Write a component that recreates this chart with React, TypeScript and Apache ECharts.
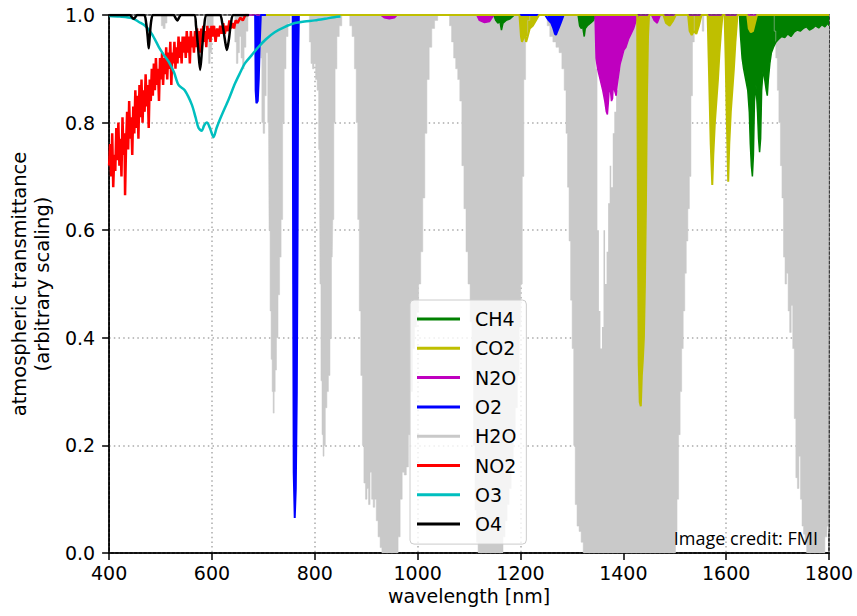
import React, { useEffect, useRef } from "react";
import * as echarts from "echarts";

// ---- axis ranges / ticks ----
const xMin = 400;
const xMax = 1800;
const xStep = 200;
const yMin = 0;
const yMax = 1;
const yStep = 0.2;

const legendNames = ["CH4", "CO2", "N2O", "O2", "H2O", "NO2", "O3", "O4"];

// ---- H2O: [wavelength nm, lower envelope, upper envelope] ----
const h2o: [number, number, number][] = [
  [400, 1, 1], [500, 1, 1], [503, 0.98, 1], [507, 0.975, 1], [511, 0.985, 1], [514, 1, 1],
  [588, 1, 1], [592, 0.95, 1], [595, 0.91, 1], [598, 0.93, 1], [601, 0.96, 1], [604, 1, 1],
  [643, 1, 1], [646, 0.95, 1], [649, 0.91, 1], [652, 0.93, 1], [655, 0.96, 1], [658, 0.92, 1],
  [661, 0.9, 1], [664, 0.94, 1], [668, 0.97, 1], [672, 1, 1],
  [694, 1, 1], [696, 0.92, 1], [698, 0.8, 1], [701, 0.78, 1], [704, 0.85, 1], [707, 0.93, 1],
  [710, 0.8, 1], [712, 0.6, 1], [714, 0.45, 1], [716, 0.36, 1], [718, 0.3, 1], [720, 0.26, 1],
  [722, 0.3, 1], [724, 0.34, 1], [727, 0.4, 1], [730, 0.48, 1], [733, 0.55, 1], [736, 0.62, 1],
  [739, 0.8, 1], [742, 0.9, 1], [746, 0.96, 1], [750, 0.985, 1], [754, 1, 1],
  [788, 1, 1], [791, 0.95, 1], [794, 0.91, 1], [797, 0.9, 1], [800, 0.91, 1], [803, 0.88, 1],
  [806, 0.86, 1], [809, 0.75, 1], [811, 0.5, 1], [813, 0.32, 1], [815, 0.22, 1], [817, 0.18, 1],
  [819, 0.2, 1], [822, 0.27, 1], [825, 0.3, 1], [828, 0.33, 1], [831, 0.4, 1], [834, 0.55, 1],
  [836, 0.62, 1], [838, 0.8, 1], [841, 0.9, 1], [845, 0.96, 1], [850, 0.98, 1], [855, 1, 1],
  [866, 1, 1], [870, 0.98, 1], [875, 0.96, 1], [879, 0.9, 1], [882, 0.8, 1], [885, 0.62, 1],
  [888, 0.45, 1], [891, 0.33, 1], [894, 0.2, 1], [897, 0.13, 1], [900, 0.1, 1], [903, 0.12, 1],
  [906, 0.09, 1], [909, 0.15, 1], [912, 0.1, 1], [915, 0.085, 1], [918, 0.1, 1], [921, 0.06, 1],
  [925, 0.03, 1], [929, 0.01, 1], [932, 0, 1], [960, 0, 1], [964, 0.03, 1], [968, 0.1, 1],
  [972, 0.15, 1], [976, 0.145, 1], [980, 0.16, 1], [984, 0.22, 1], [988, 0.3, 1], [992, 0.38, 1],
  [996, 0.42, 1], [1000, 0.45, 1], [1004, 0.5, 1], [1008, 0.56, 1], [1012, 0.66, 1], [1016, 0.78, 1],
  [1020, 0.88, 1], [1025, 0.94, 1], [1030, 0.975, 1], [1036, 0.99, 1], [1042, 1, 1],
  [1060, 1, 1], [1064, 0.98, 1], [1068, 0.95, 1], [1072, 0.92, 1], [1076, 0.9, 1], [1080, 0.88, 1],
  [1084, 0.84, 1], [1088, 0.72, 1], [1092, 0.64, 1], [1096, 0.56, 1], [1100, 0.5, 1], [1104, 0.43, 1],
  [1107, 0.34, 1], [1110, 0.2, 1], [1113, 0.08, 1], [1116, 0.02, 1], [1119, 0, 1], [1164, 0, 1],
  [1168, 0.03, 1], [1172, 0.06, 1], [1176, 0.09, 1], [1180, 0.12, 1], [1184, 0.17, 1], [1188, 0.22, 1],
  [1192, 0.27, 1], [1196, 0.33, 1], [1199, 0.42, 1], [1202, 0.5, 1], [1205, 0.7, 1], [1208, 0.88, 1],
  [1212, 0.96, 1], [1216, 0.99, 1], [1220, 1, 1],
  [1250, 1, 1], [1254, 0.98, 1], [1260, 0.96, 1], [1266, 0.95, 1], [1272, 0.94, 1], [1278, 0.93, 1],
  [1283, 0.9, 1], [1287, 0.86, 1], [1290, 0.78, 1], [1293, 0.68, 1], [1296, 0.58, 1], [1299, 0.47, 1],
  [1302, 0.38, 1], [1305, 0.2, 1], [1308, 0.09, 1], [1312, 0.05, 1], [1316, 0.04, 1], [1320, 0.02, 1],
  [1324, 0, 1], [1345, 0, 1], [1348, 0, 0.9], [1351, 0, 0.6], [1354, 0, 0.45], [1357, 0, 0.38],
  [1360, 0, 0.42], [1363, 0, 0.6], [1366, 0, 0.5], [1369, 0, 0.56], [1372, 0, 0.65], [1375, 0, 0.72],
  [1378, 0, 0.68], [1381, 0, 0.78], [1384, 0, 0.82], [1388, 0, 0.86], [1392, 0, 0.9], [1396, 0, 0.93],
  [1400, 0, 0.95], [1406, 0, 0.97], [1412, 0, 0.98], [1418, 0, 1], [1500, 0, 1], [1503, 0.04, 1],
  [1506, 0.1, 1], [1509, 0.22, 1], [1512, 0.3, 1], [1515, 0.38, 1], [1518, 0.45, 1], [1521, 0.52, 1],
  [1524, 0.58, 1], [1527, 0.64, 1], [1530, 0.7, 1], [1533, 0.85, 1], [1536, 0.95, 1], [1540, 1, 1],
  [1552, 1, 1], [1555, 0.97, 1], [1558, 1, 1],
  [1692, 1, 1], [1695, 0.97, 1], [1698, 0.92, 1], [1701, 0.86, 1], [1704, 0.8, 1], [1707, 0.72, 1],
  [1710, 0.66, 1], [1713, 0.55, 1], [1716, 0.5, 1], [1719, 0.52, 1], [1722, 0.45, 1], [1725, 0.41, 1],
  [1728, 0.46, 1], [1731, 0.38, 1], [1734, 0.25, 1], [1737, 0.14, 1], [1740, 0.12, 1], [1743, 0.18, 1],
  [1746, 0.1, 1], [1749, 0.05, 1], [1752, 0.035, 1], [1755, 0.02, 1], [1758, 0, 1], [1790, 0, 1],
  [1794, 0.03, 1], [1798, 0.05, 1], [1800, 0.04, 1],
];

// ---- other gases: [wavelength nm, transmittance] ----
const ch4: [number, number][] = [
  [1148, 1], [1152, 0.99], [1156, 0.985], [1160, 0.988], [1163, 0.972], [1166, 0.985], [1172, 0.99],
  [1180, 0.993], [1188, 1],
  [1312, 1], [1315, 0.98], [1318, 0.975], [1321, 0.978], [1324, 0.96], [1326, 0.975], [1330, 0.98],
  [1336, 0.985], [1342, 0.99], [1346, 1],
  [1626, 1], [1628, 0.96], [1631, 0.92], [1634, 0.9], [1638, 0.88], [1642, 0.86], [1645, 0.82],
  [1647, 0.76], [1649, 0.72], [1651, 0.7], [1653, 0.74], [1655, 0.84], [1658, 0.87], [1661, 0.82],
  [1663, 0.77], [1665, 0.745], [1667, 0.77], [1669, 0.86], [1672, 0.9], [1675, 0.88], [1678, 0.86],
  [1680, 0.85], [1682, 0.88], [1685, 0.91], [1688, 0.93], [1692, 0.94], [1697, 0.95], [1702, 0.955],
  [1708, 0.96], [1714, 0.958], [1720, 0.965], [1726, 0.96], [1732, 0.968], [1738, 0.972], [1744, 0.97],
  [1750, 0.975], [1756, 0.978], [1762, 0.972], [1768, 0.975], [1774, 0.98], [1780, 0.976], [1786, 0.982],
  [1792, 0.978], [1798, 0.985], [1800, 0.98],
];

const co2: [number, number][] = [
  [705, 1], [1198, 1], [1201, 0.96], [1203, 0.95], [1205, 0.955], [1208, 0.965], [1211, 0.95],
  [1214, 0.96], [1218, 0.975], [1224, 0.98], [1230, 0.99], [1236, 1],
  [1427, 1], [1428.5, 0.6], [1430, 0.35], [1432, 0.28], [1434, 0.273], [1436, 0.33], [1438, 0.36],
  [1440, 0.4], [1442, 0.5], [1444, 0.65], [1446, 0.85], [1448, 0.96], [1450, 1],
  [1478, 1], [1483, 0.985], [1490, 0.98], [1497, 0.99], [1502, 1],
  [1526, 1], [1529, 0.97], [1533, 0.963], [1537, 0.97], [1542, 0.965], [1547, 0.98], [1552, 1],
  [1564, 1], [1566, 0.92], [1568, 0.84], [1570, 0.76], [1573, 0.684], [1575, 0.74], [1578, 0.8],
  [1581, 0.84], [1584, 0.88], [1587, 0.93], [1590, 0.97], [1593, 1],
  [1597, 1], [1599, 0.92], [1601, 0.82], [1604, 0.69], [1606, 0.76], [1609, 0.82], [1612, 0.86],
  [1615, 0.9], [1618, 0.95], [1622, 1],
  [1641, 1], [1644, 0.975], [1648, 0.968], [1652, 0.97], [1656, 0.985], [1660, 1], [1800, 1],
];

const n2o: [number, number][] = [
  [668, 1], [928, 1], [935, 0.995], [945, 0.993], [955, 0.995], [960, 1],
  [1115, 1], [1120, 0.99], [1130, 0.986], [1140, 0.988], [1148, 1],
  [1345, 1], [1347, 0.92], [1350, 0.9], [1355, 0.88], [1360, 0.86], [1364, 0.84], [1367, 0.82],
  [1369, 0.815], [1371, 0.84], [1373, 0.87], [1375, 0.86], [1377, 0.84], [1379, 0.845], [1381, 0.88],
  [1383, 0.86], [1386, 0.85], [1388, 0.87], [1391, 0.89], [1394, 0.91], [1397, 0.92], [1401, 0.935],
  [1405, 0.94], [1410, 0.955], [1415, 0.965], [1420, 0.975], [1425, 0.99], [1429, 1],
  [1455, 1], [1460, 0.99], [1466, 0.985], [1472, 1], [1800, 1],
];

const o2: [number, number][] = [
  [684, 1], [685, 0.86], [686.5, 0.836], [689, 0.84], [691, 0.88], [693, 0.95], [695, 1],
  [757, 1], [758, 0.5], [759, 0.15], [761, 0.065], [763, 0.12], [765, 0.3], [766.5, 0.6], [767.5, 0.9], [769, 1],
  [1248, 1], [1255, 0.99], [1260, 0.985], [1264, 0.975], [1267, 0.965], [1269, 0.963], [1271, 0.968],
  [1274, 0.975], [1278, 0.985], [1284, 1],
];

const no2: [number, number][] = [
  [400, 0.72], [402, 0.76], [404, 0.7], [406, 0.78], [408, 0.68], [410, 0.74], [412, 0.71], [414, 0.79],
  [416, 0.73], [418, 0.8], [420, 0.72], [422, 0.77], [424, 0.7], [426, 0.81], [428, 0.74], [430, 0.78],
  [431, 0.665], [433, 0.76], [435, 0.82], [437, 0.75], [439, 0.84], [441, 0.77], [443, 0.81], [445, 0.74],
  [447, 0.83], [449, 0.78], [451, 0.86], [453, 0.79], [455, 0.85], [457, 0.77], [459, 0.87], [461, 0.81],
  [463, 0.88], [465, 0.8], [467, 0.86], [469, 0.82], [471, 0.89], [473, 0.83], [475, 0.87], [477, 0.79],
  [479, 0.88], [481, 0.84], [483, 0.9], [485, 0.85], [487, 0.91], [489, 0.86], [491, 0.92], [493, 0.87],
  [495, 0.9], [497, 0.84], [499, 0.92], [501, 0.88], [503, 0.93], [505, 0.87], [507, 0.92], [509, 0.89],
  [511, 0.94], [513, 0.88], [515, 0.93], [517, 0.9], [519, 0.95], [521, 0.87], [523, 0.93], [525, 0.91],
  [527, 0.95], [529, 0.9], [531, 0.94], [533, 0.91], [535, 0.96], [537, 0.92], [539, 0.95], [541, 0.91],
  [543, 0.96], [545, 0.93], [547, 0.96], [549, 0.92], [551, 0.97], [553, 0.93], [555, 0.96], [557, 0.91],
  [559, 0.97], [561, 0.94], [563, 0.96], [565, 0.93], [567, 0.97], [569, 0.94], [571, 0.975], [573, 0.95],
  [575, 0.97], [577, 0.93], [579, 0.975], [581, 0.95], [583, 0.98], [585, 0.95], [587, 0.97], [589, 0.94],
  [591, 0.98], [593, 0.955], [595, 0.975], [597, 0.95], [599, 0.98], [601, 0.96], [604, 0.98], [607, 0.95],
  [610, 0.975], [613, 0.96], [616, 0.98], [619, 0.965], [622, 0.985], [625, 0.965], [628, 0.98], [631, 0.97],
  [634, 0.99], [637, 0.975], [640, 0.985], [643, 0.975], [646, 0.99], [650, 0.985], [655, 0.995], [660, 0.99],
  [665, 1], [670, 1],
];

const o3: [number, number][] = [
  [400, 0.998], [420, 0.997], [445, 0.994], [458, 0.987], [470, 0.98], [483, 0.965], [497, 0.94],
  [507, 0.925], [516, 0.913], [526, 0.894], [535, 0.87], [547, 0.86], [561, 0.833], [568, 0.81],
  [574, 0.79], [580, 0.785], [585, 0.795], [590, 0.8], [596, 0.79], [603, 0.773], [609, 0.79],
  [615, 0.805], [624, 0.825], [632, 0.842], [645, 0.873], [655, 0.893], [664, 0.91], [677, 0.925],
  [690, 0.94], [705, 0.955], [722, 0.968], [740, 0.977], [761, 0.985], [780, 0.988], [800, 0.99],
  [820, 0.993], [838, 0.996], [850, 0.997],
];

const o4: [number, number][] = [
  [400, 1], [440, 1], [445, 0.995], [448, 0.993], [451, 0.996], [455, 1], [468, 1], [472, 0.985],
  [475, 0.96], [477, 0.938], [479, 0.96], [482, 0.99], [486, 1], [525, 1], [530, 0.993], [533, 0.99],
  [536, 0.995], [540, 1], [565, 1], [569, 0.98], [573, 0.94], [577, 0.898], [581, 0.94], [585, 0.98],
  [590, 1], [615, 1], [620, 0.985], [625, 0.955], [629, 0.935], [633, 0.955], [637, 0.985], [642, 1],
  [672, 1],
];

const colors: Record<string, string> = {
  CH4: "#008000",
  CO2: "#bfbf00",
  N2O: "#bf00bf",
  O2: "#0000ff",
  H2O: "#c9c9c9",
  NO2: "#ff0000",
  O3: "#00bfbf",
  O4: "#000000",
};

const FONT = "DejaVu Sans";

export default function App() {
  const ref = useRef<HTMLDivElement>(null);

  useEffect(() => {
    if (!ref.current) return;
    const chart = echarts.init(ref.current, null, { renderer: "svg" });

    const filled = (name: string, data: [number, number][], width: number, color: string, step?: string) => ({
      name,
      type: "line",
      data,
      symbol: "none",
      step: step || false,
      color,
      lineStyle: { color, width },
      areaStyle: { color, opacity: 1, origin: "end" },
      silent: true,
      emphasis: { disabled: true },
    });
    const plain = (name: string, data: [number, number][], width: number, smooth: number | boolean) => ({
      name,
      type: "line",
      data,
      symbol: "none",
      smooth,
      color: colors[name],
      lineStyle: { color: colors[name], width },
      silent: true,
      emphasis: { disabled: true },
    });

    const option: any = {
      animation: false,
      grid: {
        left: 107,
        right: 28,
        top: 15,
        bottom: 63,
        show: true,
        borderColor: "#000",
        borderWidth: 1.5,
        backgroundColor: "#fff",
      },
      xAxis: {
        type: "value",
        min: xMin,
        max: xMax,
        interval: xStep,
        name: "wavelength [nm]",
        nameLocation: "middle",
        nameGap: 33,
        nameTextStyle: { fontFamily: FONT, fontSize: 19, color: "#000" },
        axisLine: { show: true, lineStyle: { color: "#000", width: 1.5 } },
        axisTick: { show: true, inside: false, length: 7, lineStyle: { color: "#000", width: 1.5 } },
        axisLabel: {
          margin: 10,
          fontFamily: FONT,
          fontSize: 19,
          color: "#000",
          formatter: (v: number) => String(v),
        },
        splitLine: { show: true, lineStyle: { color: "#aaaaaa", width: 1.5, type: [1.5, 3.2] } },
      },
      yAxis: {
        type: "value",
        min: yMin,
        max: yMax,
        interval: yStep,
        name: "atmospheric transmittance\n(arbitrary scaling)",
        nameLocation: "middle",
        nameRotate: 90,
        nameGap: 53,
        nameTextStyle: { fontFamily: FONT, fontSize: 19.5, color: "#000", lineHeight: 23 },
        axisLine: { show: true, lineStyle: { color: "#000", width: 1.5 } },
        axisTick: { show: true, inside: false, length: 7, lineStyle: { color: "#000", width: 1.5 } },
        axisLabel: {
          margin: 14,
          fontFamily: FONT,
          fontSize: 19,
          color: "#000",
          formatter: (v: number) => v.toFixed(1),
        },
        splitLine: { show: true, lineStyle: { color: "#aaaaaa", width: 1.5, type: [1.5, 3.2] } },
      },
      legend: {
        data: legendNames.map((n) => ({ name: n, icon: "rect" })),
        orient: "vertical",
        left: 410,
        top: 300,
        itemWidth: 43,
        itemHeight: 3,
        itemGap: 7.3,
        padding: [8, 10, 9, 7],
        selectedMode: false,
        backgroundColor: "rgba(255,255,255,0.8)",
        borderColor: "#cccccc",
        borderWidth: 1,
        borderRadius: 4,
        itemStyle: { borderWidth: 0 },
        textStyle: {
          fontFamily: FONT,
          fontSize: 19,
          color: "#000",
          lineHeight: 22,
          padding: [0, 0, 0, 10],
        },
      },
      graphic: [
        {
          type: "text",
          x: 818,
          y: 538,
          silent: true,
          z: 100,
          style: {
            text: "Image credit: FMI",
            font: "18px 'Open Sans'",
            fill: "#000",
            textAlign: "right",
            textVerticalAlign: "middle",
          },
        },
      ],
      series: [
        // gray: filled from the top down to the lower envelope
        filled("H2O", h2o.map((d) => [d[0], d[1]] as [number, number]), 0.5, colors.H2O, "middle"),
        // white: restores the gaps above the upper envelope
        filled("H2O_gap", h2o.map((d) => [d[0], d[2]] as [number, number]), 0, "#ffffff", "middle"),
        filled("CH4", ch4, 1.5, colors.CH4),
        filled("N2O", n2o, 1.5, colors.N2O),
        filled("O2", o2, 2, colors.O2),
        filled("CO2", co2, 2, colors.CO2),
        plain("NO2", no2, 2.5, false),
        plain("O3", o3, 2.5, 0.3),
        plain("O4", o4, 2.5, 0.3),
      ],
    };

    chart.setOption(option);
    return () => chart.dispose();
  }, []);

  return (
    <div
      ref={ref}
      style={{ position: "fixed", left: 0, top: 0, width: 857, height: 616, background: "#fff" }}
    />
  );
}
